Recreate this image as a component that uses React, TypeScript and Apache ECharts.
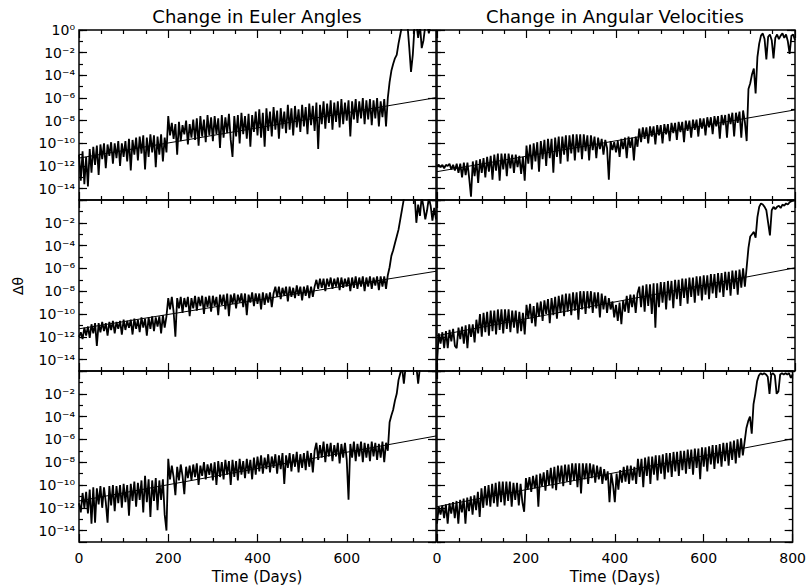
import React, { useEffect, useRef } from 'react';
import * as echarts from 'echarts';

// Sample times (days), every 4 days from 0 to 800
const days: number[] = Array.from({ length: 201 }, (_, i) => i * 4);

// log10(Δθ) — Euler angles
const eulerTop: number[] = [
  -11.0, -13.3, -10.7, -13.6, -11.2, -13.8, -10.5, -12.6, -10.3, -11.9, -10.2, -12.8, -10.1, -11.4, -10.0, -12.2, -10.1, -11.1, -9.9, -11.8, -10.0, -11.3, -9.8, -12.0, -10.0,
  -11.2, -9.8, -11.6, -9.6, -12.4, -9.7, -11.0, -9.5, -11.5, -9.4, -10.9, -9.3, -12.3, -9.5, -11.2, -9.2, -10.8, -9.3, -12.1, -9.4, -11.0, -9.2, -11.6, -9.5, -10.8,
  -7.6, -9.3, -8.2, -9.6, -8.3, -11.0, -8.1, -9.8, -8.4, -9.2, -8.0, -10.1, -8.3, -9.5, -7.9, -9.7, -7.8, -10.2, -7.6, -9.4, -7.9, -9.9, -7.5, -9.3, -7.7,
  -9.8, -7.6, -9.2, -7.8, -10.4, -7.5, -9.5, -7.7, -9.1, -7.4, -9.7, -11.2, -7.6, -9.4, -7.5, -10.0, -7.3, -9.2, -7.6, -9.6, -7.4, -10.3, -7.5, -9.0, -7.2,
  -9.3, -7.0, -9.5, -7.3, -10.3, -6.9, -8.9, -7.2, -9.4, -6.8, -8.8, -7.1, -9.6, -6.9, -8.7, -7.2, -9.1, -6.6, -8.8, -6.9, -9.3, -6.7, -8.6, -7.0, -9.0,
  -6.6, -8.5, -6.8, -9.2, -6.5, -8.4, -6.7, -8.9, -6.4, -10.5, -6.6, -8.3, -6.3, -8.7, -6.5, -8.2, -6.2, -8.8, -6.4, -8.1, -6.3, -8.6, -6.1, -8.3, -6.4,
  -8.0, -6.2, -9.4, -6.3, -7.9, -6.1, -8.2, -6.3, -7.8, -6.0, -8.3, -6.2, -7.9, -6.1, -8.4, -6.2, -7.8, -6.0, -8.5, -6.3, -7.7, -6.1, -8.5, -6.0, -4.6,
  -3.6, -3.0, -2.5, -2.2, -1.2, -0.4, 0.4, 0.6, 0.3, 0.5, -1.5, -3.7, -2.2, 0.4, 0.6, -0.7, 0.5, -1.6, -0.9, 0.4, 0.6, -0.3, 0.5, 0.6, 0.4,
  0.5,
];
const eulerMid: number[] = [
  -12.0, -11.6, -12.2, -11.2, -11.9, -11.1, -12.1, -10.9, -11.7, -10.8, -12.8, -10.8, -11.6, -10.7, -11.5, -10.8, -11.9, -10.7, -11.4, -10.6, -11.7, -10.7, -11.3, -10.6, -11.8,
  -10.5, -11.4, -10.6, -11.2, -10.5, -11.8, -10.4, -11.3, -10.5, -11.6, -10.3, -11.2, -10.4, -11.9, -10.3, -11.3, -10.2, -11.5, -10.3, -11.1, -10.2, -11.7, -10.1, -11.2, -10.2,
  -8.6, -9.6, -8.5, -9.8, -12.0, -8.6, -9.5, -8.5, -9.9, -8.6, -9.4, -8.5, -10.2, -8.6, -9.5, -8.4, -9.7, -8.5, -9.3, -8.4, -10.0, -8.5, -9.4, -8.4, -9.8,
  -8.4, -9.3, -8.5, -10.1, -8.3, -9.2, -8.3, -9.6, -8.2, -10.2, -8.3, -9.1, -8.2, -9.5, -8.3, -9.0, -8.2, -9.4, -8.2, -10.1, -8.3, -9.0, -8.1, -9.3, -8.2,
  -9.1, -8.2, -9.6, -8.1, -9.2, -8.2, -9.0, -8.1, -9.4, -8.2, -7.6, -8.5, -7.6, -8.7, -7.7, -8.4, -7.6, -8.9, -7.6, -8.5, -7.7, -8.6, -7.5, -8.4, -7.6,
  -8.8, -7.6, -8.4, -7.5, -8.6, -7.6, -8.5, -7.6, -7.0, -7.8, -6.9, -7.7, -6.9, -8.0, -6.9, -7.6, -6.8, -7.8, -6.9, -7.6, -6.8, -7.9, -6.8, -7.7, -6.9,
  -7.6, -6.8, -8.0, -6.8, -7.7, -6.7, -7.8, -6.8, -7.6, -6.7, -8.0, -6.8, -7.6, -6.7, -7.8, -6.8, -7.5, -6.7, -7.9, -6.7, -7.6, -6.7, -7.8, -6.6, -5.9,
  -4.9, -4.4, -3.8, -3.2, -2.6, -1.7, -0.8, 0.1, 0.5, 0.6, 0.5, 0.6, 0.4, 0.5, -2.0, -0.4, -1.4, 0.3, -0.6, -1.7, -0.9, 0.2, -0.5, -1.8, -0.7,
  -1.7,
];
const eulerBot: number[] = [
  -11.6, -12.4, -10.7, -12.0, -10.6, -12.5, -10.4, -13.4, -10.2, -13.3, -10.3, -11.7, -10.1, -12.0, -10.2, -11.5, -13.3, -10.1, -11.8, -10.0, -12.3, -10.1, -11.6, -10.0, -12.0,
  -9.9, -11.5, -10.0, -12.7, -9.9, -11.4, -9.7, -11.9, -9.8, -11.3, -9.6, -12.4, -9.2, -11.5, -9.5, -12.8, -9.6, -11.4, -9.4, -12.2, -9.6, -11.3, -9.5, -12.6, -14.0,
  -7.7, -9.5, -8.3, -9.3, -10.9, -8.4, -9.6, -8.2, -9.2, -10.8, -8.4, -9.4, -8.3, -9.6, -8.2, -9.3, -8.1, -10.0, -8.3, -9.2, -8.0, -9.5, -8.2, -9.1, -8.1,
  -9.6, -8.0, -10.0, -7.9, -9.3, -8.0, -9.5, -7.8, -9.1, -7.9, -10.0, -7.8, -9.3, -7.9, -9.6, -7.7, -9.1, -7.9, -9.4, -7.7, -9.0, -7.8, -9.5, -7.6, -9.1,
  -7.5, -8.8, -7.4, -9.0, -7.6, -8.6, -7.3, -8.9, -7.5, -8.5, -7.3, -9.0, -7.4, -8.6, -7.2, -9.9, -7.4, -8.5, -7.2, -8.8, -7.3, -8.4, -7.1, -8.9, -7.3,
  -8.5, -7.2, -8.7, -7.0, -8.4, -7.2, -8.9, -7.0, -6.3, -7.8, -6.5, -7.6, -6.2, -8.0, -6.4, -7.5, -6.3, -7.9, -6.5, -7.5, -6.3, -8.1, -6.4, -7.6, -6.3,
  -7.8, -11.3, -6.4, -7.6, -6.2, -7.9, -6.4, -7.5, -6.2, -8.0, -6.3, -7.6, -6.4, -7.9, -6.2, -7.5, -6.3, -7.8, -6.4, -7.6, -6.2, -8.0, -6.3, -7.0, -4.5,
  -3.9, -3.4, -2.6, -2.0, -0.8, -0.2, 0.3, -1.1, 0.4, 0.6, 0.5, 0.6, 0.5, 0.6, 0.4, -1.1, 0.3, 0.5, 0.6, 0.5, 0.6, 0.4, 0.6, 0.5, 0.6,
  0.5,
];

// log10(Δθ) — angular velocities
const omegaTop: number[] = [
  -12.0, -11.9, -12.1, -11.9, -12.2, -11.9, -12.0, -11.8, -12.3, -11.9, -12.4, -11.8, -12.6, -11.8, -13.0, -11.7, -12.8, -11.7, -13.1, -14.7, -11.6, -12.9, -11.5, -13.5, -11.4,
  -12.6, -11.3, -13.0, -11.2, -12.5, -11.1, -13.2, -11.0, -12.4, -10.9, -13.3, -10.9, -12.3, -10.9, -12.9, -10.9, -12.2, -11.0, -12.6, -11.0, -12.1, -11.1, -12.7, -11.2, -13.3,
  -10.2, -11.8, -10.1, -12.3, -10.0, -11.6, -9.9, -12.5, -9.8, -11.4, -9.7, -12.0, -9.6, -11.3, -9.6, -12.6, -9.5, -11.2, -9.4, -11.8, -9.4, -11.0, -9.3, -11.6, -9.3,
  -10.9, -9.2, -11.5, -9.2, -10.8, -9.2, -11.4, -9.2, -10.7, -9.3, -11.5, -9.3, -10.6, -9.4, -11.3, -9.5, -10.5, -9.6, -11.0, -9.7, -10.4, -13.2, -9.8, -10.6, -9.9,
  -10.8, -9.8, -11.2, -9.6, -10.5, -9.5, -11.3, -9.4, -10.4, -9.5, -11.5, -9.4, -10.3, -8.7, -9.9, -8.6, -9.6, -8.6, -10.0, -8.5, -9.4, -8.5, -10.1, -8.4, -9.3,
  -8.4, -10.0, -8.3, -9.2, -8.3, -9.8, -8.2, -9.1, -8.2, -9.7, -8.1, -9.0, -8.1, -9.9, -8.0, -8.9, -8.0, -9.5, -7.9, -8.8, -7.9, -9.4, -7.8, -8.7, -7.8,
  -9.3, -7.7, -8.6, -7.7, -9.2, -7.6, -8.5, -7.6, -9.6, -7.5, -8.4, -7.5, -9.5, -7.4, -8.3, -7.3, -9.4, -7.3, -8.2, -7.2, -9.5, -7.1, -8.1, -9.8, -5.2,
  -4.7, -3.9, -3.4, -5.6, -2.4, -1.2, -0.5, -0.3, -0.8, -2.6, -0.6, -0.4, -0.9, -2.5, -0.7, -0.4, -0.8, -0.5, -0.3, -0.7, -0.4, -1.0, -2.1, -0.5, -0.4,
  -0.9,
];
const omegaMid: number[] = [
  -14.3, -11.7, -12.6, -11.6, -13.0, -11.5, -13.0, -11.4, -12.4, -11.3, -12.8, -13.0, -11.2, -12.2, -11.1, -12.6, -11.0, -13.0, -10.9, -12.0, -10.9, -12.5, -10.5, -11.7, -10.0,
  -12.0, -9.9, -11.6, -9.8, -11.9, -9.7, -11.5, -9.7, -11.8, -9.6, -11.4, -9.6, -11.7, -9.6, -11.3, -9.6, -11.6, -9.7, -11.2, -9.7, -11.7, -9.8, -11.5, -9.9, -11.8,
  -9.2, -10.4, -9.1, -10.8, -9.3, -11.1, -9.0, -10.2, -8.9, -10.6, -8.8, -10.0, -8.7, -10.8, -8.6, -10.1, -8.5, -10.4, -8.4, -9.9, -8.3, -10.2, -8.2, -9.8, -8.2,
  -10.1, -8.1, -9.7, -8.1, -10.5, -8.0, -9.6, -8.0, -10.0, -8.0, -9.5, -8.0, -9.9, -8.1, -9.5, -8.1, -10.3, -8.2, -9.6, -8.4, -9.9, -8.6, -9.6, -8.9, -10.3,
  -9.2, -10.6, -9.0, -10.9, -8.8, -9.8, -8.4, -9.9, -8.3, -9.4, -8.3, -9.9, -8.2, -7.6, -9.4, -7.5, -9.8, -7.4, -9.3, -7.4, -10.0, -7.3, -11.2, -7.3, -9.4,
  -7.2, -9.0, -7.2, -9.6, -7.1, -8.8, -7.1, -9.5, -7.0, -8.7, -7.0, -9.3, -6.9, -8.6, -6.9, -9.1, -6.8, -8.5, -6.8, -9.0, -6.7, -8.4, -6.7, -8.8, -6.6,
  -8.3, -6.6, -8.7, -6.5, -8.2, -6.5, -8.6, -6.4, -8.1, -6.4, -8.5, -6.3, -7.9, -6.3, -8.4, -6.2, -7.8, -6.2, -8.3, -6.1, -7.7, -6.0, -7.6, -5.9, -4.2,
  -3.2, -3.0, -2.8, -3.3, -1.5, -0.6, -0.3, -0.4, -0.6, -0.9, -2.0, -3.1, -0.9, -0.6, -0.8, -0.6, -0.5, -0.7, -0.4, -0.5, -0.3, -0.4, -0.2, -0.1, -0.05,
  0.0,
];
const omegaBot: number[] = [
  -13.4, -11.9, -12.6, -11.8, -12.9, -11.7, -13.4, -11.6, -12.5, -11.5, -12.9, -11.4, -13.4, -11.3, -12.4, -11.2, -13.4, -11.1, -12.3, -11.0, -12.6, -10.9, -12.2, -10.6, -12.8,
  -10.3, -12.0, -10.1, -11.8, -10.0, -11.9, -9.9, -11.6, -9.8, -11.9, -9.7, -11.5, -9.7, -11.8, -9.7, -11.4, -9.7, -11.9, -9.8, -11.3, -9.8, -11.8, -9.9, -11.5, -12.35,
  -9.4, -10.4, -9.3, -10.6, -9.2, -10.3, -9.1, -11.9, -9.0, -10.1, -8.9, -10.5, -8.7, -10.0, -8.5, -10.3, -8.4, -10.45, -8.3, -9.8, -8.3, -10.1, -8.2, -9.7, -8.2,
  -10.0, -8.1, -9.6, -8.1, -10.2, -8.1, -10.75, -8.1, -9.5, -8.1, -9.9, -8.1, -9.4, -8.2, -9.8, -8.3, -9.5, -8.4, -9.9, -8.6, -9.6, -8.8, -11.5, -9.0, -10.0,
  -11.5, -9.0, -10.4, -8.7, -9.8, -8.4, -9.7, -8.3, -9.9, -8.3, -9.6, -8.4, -9.9, -7.7, -9.3, -7.7, -10.2, -7.6, -9.2, -7.5, -9.9, -7.5, -9.1, -7.4, -9.6,
  -7.4, -9.0, -7.3, -9.5, -7.2, -8.9, -7.2, -9.3, -7.1, -8.8, -7.1, -9.2, -7.0, -8.7, -7.0, -9.0, -6.9, -8.6, -6.9, -9.1, -6.8, -8.5, -6.8, -9.5, -6.7,
  -8.4, -6.7, -8.8, -6.6, -8.2, -6.5, -8.6, -6.5, -8.1, -6.4, -8.4, -6.3, -7.9, -6.3, -8.3, -6.2, -7.8, -6.1, -8.1, -6.0, -7.6, -5.9, -7.4, -6.2, -5.0,
  -4.4, -4.0, -5.5, -2.9, -2.0, -0.9, -0.4, -0.2, -0.3, -0.2, -0.3, -0.5, -2.0, -0.3, -0.2, -0.4, -2.0, -1.8, -0.3, -0.2, -0.3, -0.2, -0.3, -0.2, -0.6,
  -0.3,
];

// Reference (exponential growth) lines, log10 values at day 0 and day 800
const refDays: number[] = [0, 800];
const refEulerTop: number[] = [-11.3, -5.97];
const refEulerMid: number[] = [-11.3, -6.25];
const refEulerBot: number[] = [-11.4, -5.7];
const refOmegaTop: number[] = [-12.5, -7.05];
const refOmegaMid: number[] = [-11.9, -5.95];
const refOmegaBot: number[] = [-11.9, -5.95];

const xTicks = { min: 0, max: 800, interval: 200 };
const titles = ['Change in Euler Angles', 'Change in Angular Velocities'];
const xTitle = 'Time (Days)';
const yTitle = 'Δθ';

const FONT = '"DejaVu Sans", "Liberation Sans", sans-serif';

const panels = [
  { data: eulerTop, ref: refEulerTop, col: 0, row: 0 },
  { data: omegaTop, ref: refOmegaTop, col: 1, row: 0 },
  { data: eulerMid, ref: refEulerMid, col: 0, row: 1 },
  { data: omegaMid, ref: refOmegaMid, col: 1, row: 1 },
  { data: eulerBot, ref: refEulerBot, col: 0, row: 2 },
  { data: omegaBot, ref: refOmegaBot, col: 1, row: 2 },
];

const colLeft = [79, 437];
const colWidth = [357, 358];
const rowTop = [30, 200, 371];
const rowHeight = [170, 171, 171];

const tickLine = { color: '#000', width: 1.2 };

// exponent e (0, -2, ... -14) -> "10⁻²" style label with superscript characters
const SUP: Record<string, string> = {
  '0': '\u2070', '1': '\u00B9', '2': '\u00B2', '3': '\u00B3', '4': '\u2074',
  '5': '\u2075', '6': '\u2076', '7': '\u2077', '8': '\u2078', '9': '\u2079', '-': '\u207B',
};
const powLabel = (e: number) => '10' + String(e).split('').map((c) => SUP[c] || c).join('');

function buildOption() {
  const grid = panels.map((p) => ({
    left: colLeft[p.col],
    top: rowTop[p.row],
    width: colWidth[p.col],
    height: rowHeight[p.row],
    show: true,
    borderColor: '#000',
    borderWidth: 1.5,
    backgroundColor: 'transparent',
  }));

  const xAxis: any[] = [];
  const yAxis: any[] = [];
  panels.forEach((p, i) => {
    const bottomRow = p.row === 2;
    ['bottom', 'top'].forEach((pos) => {
      const showLabels = pos === 'bottom' && bottomRow;
      xAxis.push({
        type: 'value',
        gridIndex: i,
        position: pos,
        min: xTicks.min,
        max: xTicks.max,
        interval: xTicks.interval,
        axisLine: { show: false, onZero: false },
        axisTick: { show: true, inside: true, length: 8, lineStyle: tickLine },
        minorTick: { show: true, splitNumber: 4, length: 4, lineStyle: tickLine },
        splitLine: { show: false },
        minorSplitLine: { show: false },
        axisLabel: showLabels
          ? {
              show: true,
              showMinLabel: true,
              showMaxLabel: true,
              color: '#000',
              fontSize: 14,
              fontFamily: FONT,
              margin: 9,
              formatter: (v: number) => (p.col === 0 && v === 800 ? '' : String(v)),
            }
          : { show: false },
      });
    });
    ['left', 'right'].forEach((pos) => {
      // short ticks at every decade; the left one carries the 10^n labels
      const showLabels = pos === 'left' && p.col === 0;
      yAxis.push({
        type: 'value',
        gridIndex: i,
        position: pos,
        min: -15,
        max: 0,
        interval: 1,
        axisLine: { show: false, onZero: false },
        axisTick: { show: true, inside: true, length: 4, lineStyle: tickLine },
        splitLine: { show: false },
        axisLabel: showLabels
          ? {
              show: true,
              showMinLabel: false,
              showMaxLabel: true,
              hideOverlap: false,
              margin: 4,
              color: '#000',
              fontSize: 14,
              lineHeight: 16,
              fontFamily: FONT,
              formatter: (v: number) => {
                const e = Math.round(v);
                if (e % 2 !== 0) return '';
                if (e === 0 && p.row > 0) return '';
                return powLabel(e);
              },
            }
          : { show: false },
      });
    });
    ['left', 'right'].forEach((pos) => {
      // long ticks every two decades (axis counts decades downward from 10^0)
      yAxis.push({
        type: 'value',
        gridIndex: i,
        position: pos,
        min: 0,
        max: 15,
        interval: 2,
        inverse: true,
        axisLine: { show: false, onZero: false },
        axisTick: { show: true, inside: true, length: 8, lineStyle: tickLine },
        splitLine: { show: false },
        axisLabel: { show: false },
      });
    });
  });

  const series: any[] = [];
  panels.forEach((p, i) => {
    series.push({
      type: 'line',
      xAxisIndex: 2 * i,
      yAxisIndex: 4 * i,
      data: days.map((d, k) => [d, p.data[k]]),
      symbol: 'none',
      lineStyle: { color: '#000', width: 1.8 },
      clip: true,
      silent: true,
    });
    series.push({
      type: 'line',
      xAxisIndex: 2 * i,
      yAxisIndex: 4 * i,
      data: refDays.map((d, k) => [d, p.ref[k]]),
      symbol: 'none',
      lineStyle: { color: '#000', width: 1 },
      clip: true,
      silent: true,
    });
  });

  const textStyle = (fs: number) => ({ fill: '#000', fontSize: fs, fontFamily: FONT, align: 'center', verticalAlign: 'middle' });

  const graphic = [
    { type: 'text', x: 257, y: 16, style: { text: titles[0], ...textStyle(18) } },
    { type: 'text', x: 615, y: 16, style: { text: titles[1], ...textStyle(18) } },
    { type: 'text', x: 257, y: 577, style: { text: xTitle, ...textStyle(15) } },
    { type: 'text', x: 615, y: 577, style: { text: xTitle, ...textStyle(15) } },
    { type: 'text', x: 18, y: 286, rotation: Math.PI / 2, style: { text: yTitle, ...textStyle(14) } },
  ];

  return {
    animation: false,
    backgroundColor: '#fff',
    grid,
    xAxis,
    yAxis,
    series,
    graphic,
  };
}

export default function App() {
  const ref = useRef<HTMLDivElement>(null);
  useEffect(() => {
    if (!ref.current) return;
    const chart = echarts.init(ref.current, undefined, { renderer: 'svg' });
    chart.setOption(buildOption() as any);
    return () => chart.dispose();
  }, []);
  return (
    <div
      ref={ref}
      style={{ position: 'fixed', left: 0, top: 0, width: 809, height: 588, background: '#fff' }}
    />
  );
}
